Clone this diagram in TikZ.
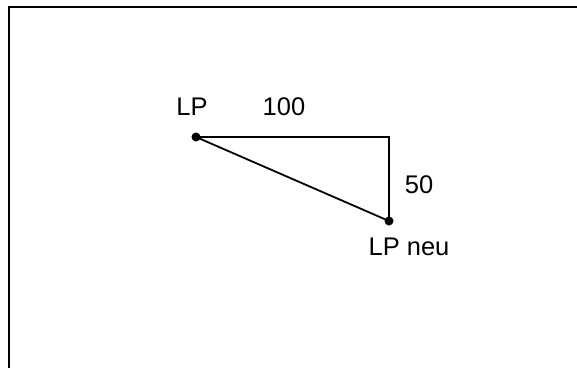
\documentclass[tikz,border=0pt]{standalone}
\usepackage{fontspec}
\setmainfont{Liberation Sans}
\begin{document}
\begin{tikzpicture}[x=1pt,y=-1pt,
  lbl/.style={anchor=base,inner sep=0pt,font=\fontsize{25.5}{30}\selectfont},
  seg/.style={line width=1.8pt,line join=miter},
  pt/.style={circle,fill=black,inner sep=0pt,minimum size=9pt},
  frame/.style={line width=2.2pt}]
\useasboundingbox (0,0) rectangle (577,367);
\fill[white] (0,0) rectangle (577,367);
% frame (top and left only)
\coordinate (fbl) at (9,368);
\coordinate (ftl) at (9,7);
\coordinate (ftr) at (578,7);
\draw[frame] (fbl) -- (ftl) -- (ftr);
% points
\coordinate (lp) at (196,137);
\coordinate (corner) at (389,137);
\coordinate (lpneu) at (389,221);
\draw[seg] (lp) -- (corner) -- (lpneu) -- cycle;
\node[pt] (dlp) at (lp) {};
\node[pt] (dlpneu) at (lpneu) {};
% labels
\node[lbl] (tlp) at (192,115) {LP};
\node[lbl] (t100) at (284,115) {100};
\node[lbl] (t50) at (419,193) {50};
\node[lbl] (tneu) at (409,255) {LP neu};
\end{tikzpicture}
\end{document}
